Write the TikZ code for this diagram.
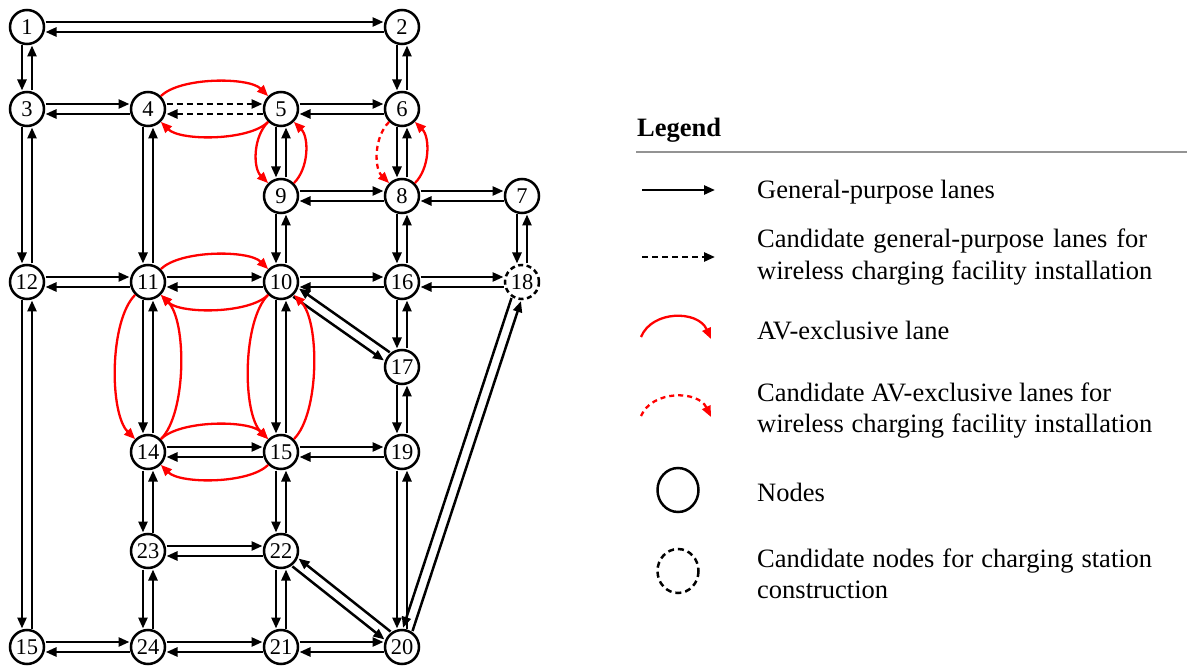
\documentclass[tikz,border=0pt]{standalone}
\usepackage{fontspec}
\setmainfont{Liberation Serif}
\usetikzlibrary{arrows.meta,calc}

% distance of a lane end from the node centre, and half the gap between paired lanes
\newcommand\laneclr{18.5pt}
\newcommand\laneoff{5pt}
% two opposite lanes between #3 and #4, offset sideways by the angle #2
\newcommand\pairlanes[4]{%
  \draw[#1] ($(#3)!\laneclr!(#4)!\laneoff!#2:(#4)$) -- ($(#4)!\laneclr!(#3)!-\laneoff!#2:(#3)$);
  \draw[#1] ($(#4)!\laneclr!(#3)!\laneoff!#2:(#3)$) -- ($(#3)!\laneclr!(#4)!-\laneoff!#2:(#4)$);}
\newcommand\hlanes[2]{\pairlanes{lane}{90}{#1}{#2}}
\newcommand\vlanes[2]{\pairlanes{lane}{-90}{#1}{#2}}

\begin{document}
\begin{tikzpicture}[x=1pt,y=-1pt,
  stn/.style={circle, draw, line width=2.5pt, minimum size=34pt, inner sep=0pt,
              font=\fontsize{22.5}{22.5}\selectfont},
  cand/.style={stn, dash pattern=on 5pt off 3.5pt},
  lane/.style={line width=2.5pt, -{Triangle[length=11pt,width=9pt]}},
  cgp/.style={lane, dash pattern=on 6pt off 4pt},
  av/.style={red, line width=2.3pt, -{Triangle[length=11pt,width=9pt]}},
  cav/.style={av, dash pattern=on 5pt off 4pt},
  hb/.style={bend left=45, looseness=.65},
  vb/.style={bend right=45, looseness=.65},
  sb/.style={bend right=45, looseness=.9},
  legtext/.style={anchor=base west, inner sep=0pt, font=\fontsize{26.5}{26.5}\selectfont},
  legmark/.style={line width=2.5pt},
]
\useasboundingbox (0,0) rectangle (1187,668);

% ---------------- network nodes ----------------
\node[stn] (n1)  at (27,27)   {1};
\node[stn] (n2)  at (402,27)  {2};
\node[stn] (n3)  at (27,109)  {3};
\node[stn] (n4)  at (148,109) {4};
\node[stn] (n5)  at (281,109) {5};
\node[stn] (n6)  at (402,109) {6};
\node[stn] (n9)  at (281,196) {9};
\node[stn] (n8)  at (402,196) {8};
\node[stn] (n7)  at (522,196) {7};
\node[stn] (n12) at (27,282)  {12};
\node[stn] (n11) at (148,282) {11};
\node[stn] (n10) at (281,282) {10};
\node[stn] (n16) at (402,282) {16};
\node[cand] (n18) at (522,282) {18};
\node[stn] (n17) at (402,367) {17};
\node[stn] (n14) at (148,452) {14};
\node[stn] (n15) at (281,452) {15};
\node[stn] (n19) at (402,452) {19};
\node[stn] (n23) at (148,551) {23};
\node[stn] (n22) at (281,551) {22};
\node[stn] (n13) at (27,647)  {15};
\node[stn] (n24) at (148,647) {24};
\node[stn] (n21) at (281,647) {21};
\node[stn] (n20) at (402,647) {20};

% ---------------- general-purpose lanes ----------------
\hlanes{n1}{n2}   \hlanes{n3}{n4}   \hlanes{n5}{n6}
\hlanes{n9}{n8}   \hlanes{n8}{n7}
\hlanes{n12}{n11} \hlanes{n11}{n10} \hlanes{n10}{n16} \hlanes{n16}{n18}
\hlanes{n14}{n15} \hlanes{n15}{n19}
\hlanes{n23}{n22}
\hlanes{n13}{n24} \hlanes{n24}{n21} \hlanes{n21}{n20}
\pairlanes{cgp}{90}{n4}{n5}

\vlanes{n1}{n3}   \vlanes{n2}{n6}   \vlanes{n3}{n12}  \vlanes{n4}{n11}
\vlanes{n5}{n9}   \vlanes{n6}{n8}   \vlanes{n9}{n10}  \vlanes{n8}{n16}
\vlanes{n7}{n18}  \vlanes{n12}{n13} \vlanes{n11}{n14} \vlanes{n10}{n15}
\vlanes{n16}{n17} \vlanes{n17}{n19} \vlanes{n14}{n23} \vlanes{n15}{n22}
\vlanes{n19}{n20} \vlanes{n23}{n24} \vlanes{n22}{n21}
\vlanes{n10}{n17} \vlanes{n22}{n20} \vlanes{n18}{n20}

% ---------------- AV-exclusive lanes ----------------
\draw[av] (n4) to[hb] (n5);
\draw[av] (n5) to[hb] (n4);
\draw[av] (n5) to[sb] (n9);
\draw[av] (n9) to[sb] (n5);
\draw[cav] (n6) to[sb] (n8);
\draw[av] (n8) to[sb] (n6);
\draw[av] (n11) to[hb] (n10);
\draw[av] (n10) to[hb] (n11);
\draw[av] (n14) to[hb] (n15);
\draw[av] (n15) to[hb] (n14);
\draw[av] (n11) to[vb] (n14);
\draw[av] (n14) to[vb] (n11);
\draw[av] (n10) to[vb] (n15);
\draw[av] (n15) to[vb] (n10);

% ---------------- legend ----------------
\node[anchor=base west, inner sep=0pt, font=\bfseries\fontsize{26.5}{26.5}\selectfont]
  (legtitle) at (637,137) {Legend};
\draw[gray!85, line width=2pt] (636,152) -- (1187,152);

\coordinate (g1a) at (642,190);  \coordinate (g1b) at (715,190);
\draw[lane] (g1a) -- (g1b);
\node[legtext] (t1) at (757,199) {General-purpose lanes};

\coordinate (g2a) at (642,257);  \coordinate (g2b) at (715,257);
\draw[cgp] (g2a) -- (g2b);
\node[legtext] (t2a) at (757,248) {\makebox[390pt][s]{Candidate general-purpose lanes for}};
\node[legtext] (t2b) at (757,280) {\makebox[395pt][s]{wireless charging facility installation}};

\coordinate (g3a) at (641,337);  \coordinate (g3b) at (711,339);
\draw[av] (g3a) .. controls (652,310) and (698,310) .. (g3b);
\node[legtext] (t3) at (757,340) {AV-exclusive lane};

\coordinate (g4a) at (641,416);  \coordinate (g4b) at (711,417);
\draw[cav] (g4a) .. controls (652,390) and (698,390) .. (g4b);
\node[legtext] (t4a) at (757,402) {Candidate AV-exclusive lanes for};
\node[legtext] (t4b) at (757,433) {\makebox[395pt][s]{wireless charging facility installation}};

\draw[legmark] (678,490) ellipse [x radius=20.5, y radius=22];
\node[legtext] (t5) at (757,501) {Nodes};

\draw[legmark, dash pattern=on 6pt off 4pt] (678,571) ellipse [x radius=20.5, y radius=22];
\node[legtext] (t6a) at (757,567) {\makebox[395pt][s]{Candidate nodes for charging station}};
\node[legtext] (t6b) at (757,598) {construction};
\end{tikzpicture}
\end{document}
